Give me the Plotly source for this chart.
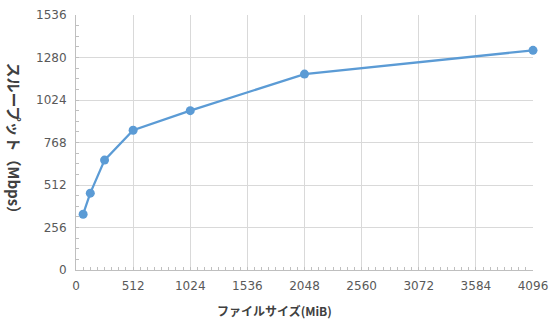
import plotly.graph_objects as go

file_size_mib = [64, 128, 256, 512, 1024, 2048, 4096]
throughput_mbps = [336, 463, 662, 842, 960, 1180, 1323]

x_ticks = [0, 512, 1024, 1536, 2048, 2560, 3072, 3584, 4096]
y_ticks = [0, 256, 512, 768, 1024, 1280, 1536]

x_title = "ファイルサイズ(MiB)"
y_title = "スループット（Mbps）"

fig = go.Figure()
fig.add_trace(go.Scatter(
    x=file_size_mib, y=throughput_mbps, mode="lines+markers",
    line=dict(color="#5B9BD5", width=2.25),
    marker=dict(color="#5B9BD5", size=9),
    cliponaxis=False, showlegend=False,
))

tick_font = dict(family="DejaVu Sans", size=12, color="#595959")
axis_common = dict(
    showgrid=True, gridcolor="#d9d9d9", gridwidth=1,
    showline=True, linecolor="#bfbfbf", linewidth=1,
    zeroline=False, ticks="inside", ticklen=3, tickcolor="#bfbfbf",
    tickfont=tick_font, automargin=False,
    minor=dict(ticks="inside", ticklen=3, tickcolor="#bfbfbf", dtick=64, showgrid=False),
)
fig.update_xaxes(range=[0, 4096], tickvals=x_ticks, ticktext=[str(v) for v in x_ticks],
                 ticklabelstandoff=5, **axis_common)
fig.update_yaxes(range=[0, 1536], tickvals=y_ticks, ticktext=[str(v) for v in y_ticks],
                 ticklabelstandoff=6, **axis_common)

fig.add_annotation(text="<b>" + x_title + "</b>", xref="paper", yref="paper",
                   x=0.434, y=-0.157, xanchor="center", yanchor="middle", showarrow=False,
                   font=dict(family="Noto Sans CJK JP", size=12, color="#404040"))
fig.add_annotation(text="<b>" + y_title + "</b>", xref="paper", yref="paper",
                   x=-0.1335, y=0.5, xanchor="center", yanchor="middle", showarrow=False,
                   textangle=90,
                   font=dict(family="Noto Sans CJK JP", size=15, color="#404040"))

fig.update_layout(
    width=549, height=323,
    margin=dict(l=76, r=16, t=15, b=53, autoexpand=False),
    paper_bgcolor="white", plot_bgcolor="white",
)
fig.write_html("out.html")
